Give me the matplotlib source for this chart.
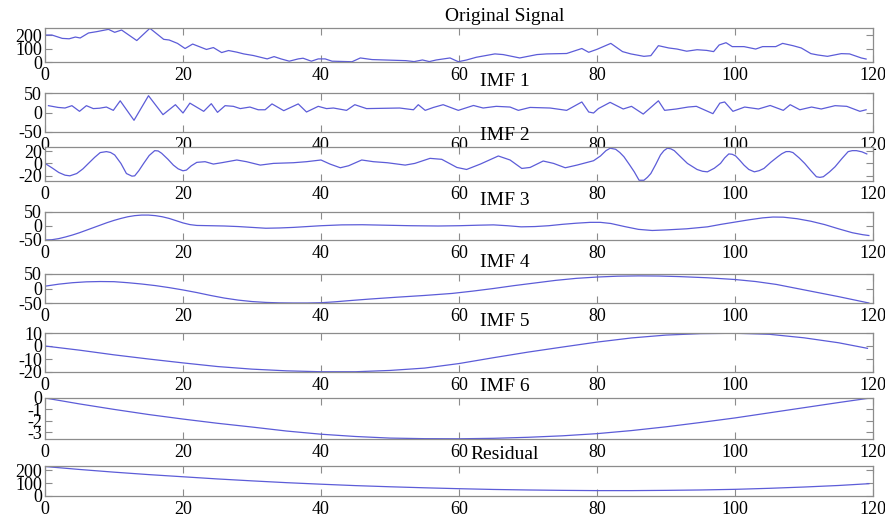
import matplotlib
matplotlib.use("Agg")
import matplotlib.pyplot as plt

plt.rcParams["font.family"] = ["Liberation Serif", "DejaVu Serif"]
plt.rcParams["axes.unicode_minus"] = False

# ---- data -------------------------------------------------------------
orig_t = [0, 1, 2.5, 3.5, 4.4, 5.1, 6.3, 7.5, 9.2, 10.1, 11.1, 13.3, 15.2, 17.2, 18,
          19.2, 20.3, 21.4, 23.4, 24.4, 25.6, 26.6, 27.8, 28.8, 30.2, 32.2, 33.2, 34.2,
          35.4, 36.7, 37.4, 38.6, 39.6, 40.6, 41.6, 44.5, 45.7, 47.4, 52.3, 53.5, 54.7,
          55.7, 56.7, 58.7, 59.9, 61.1, 62.5, 65.2, 66.4, 68.8, 71.3, 72.7, 75.6, 77.8,
          78.8, 80, 82, 83.7, 84.9, 86.8, 87.8, 88.9, 90.4, 91.6, 93, 94.5, 95.9, 96.9,
          97.7, 98.7, 99.6, 101.3, 103, 104, 105.9, 106.9, 108.4, 109.6, 111, 112,
          113.4, 115.4, 116.6, 118.3, 119]
orig_v = [200, 200, 175, 172, 185, 178, 215, 225, 242, 220, 237, 159, 250, 168, 163,
          138, 100, 133, 93, 107, 70, 85, 73, 60, 48, 23, 40, 23, 6, 23, 28, 6, 23, 23,
          6, 2, 30, 18, 10, 3, 15, 3, 15, 30, 2, 15, 35, 60, 55, 30, 55, 60, 63, 100,
          72, 94, 138, 77, 60, 42, 47, 121, 104, 96, 80, 91, 86, 77, 126, 143, 114, 114,
          96, 114, 114, 138, 121, 104, 62, 52, 42, 62, 60, 30, 22]

imf1_t = [0.5, 1.9, 2.9, 3.9, 5.0, 6.0, 7.0, 7.9, 8.9, 9.9, 10.9, 12.9, 15.0, 17.1, 18.9,
          20.0, 21.0, 23.0, 24.1, 25.0, 26.1, 27.3, 28.3, 29.7, 30.9, 31.9, 32.9, 34.6,
          36.7, 37.9, 39.6, 40.8, 41.8, 43.7, 44.9, 46.6, 51.4, 53.4, 54.1, 55.1, 56.3,
          57.7, 59.9, 62.1, 63.5, 65.4, 67.4, 68.6, 70.3, 73.2, 75.6, 77.8, 78.8, 79.5,
          80.2, 81.9, 83.8, 85.0, 86.7, 88.9, 89.8, 91.5, 93.2, 94.4, 96.8, 97.8, 98.5,
          99.7, 101.4, 103.4, 105.1, 107.0, 108.0, 109.4, 111.1, 112.5, 114.5, 116.2,
          118.1, 119.0]
imf1_v = [17.5, 13, 11.5, 17.5, 3, 17.5, 10, 11, 14, 5.5, 30, -20, 43, -5.5, 20, -1.3,
          24, 3, 22.6, 0.4, 17.5, 15.8, 10, 14, 7, 7, 22, 4.7, 22, 1.3, 15.8, 10, 11.5,
          5.5, 20, 10, 11.5, 7, 20, 5.5, 13, 20, 5.5, 18, 11.5, 15.8, 14, 5.5, 13, 11.5,
          5.5, 27, 1.3, -1.3, 10, 26, 9, 15.8, -4, 30, 5.5, 9, 14, 15.8, -3, 24, 27, 3,
          14, 9, 18, 5.5, 20, 7, 14, 9, 17.5, 15.8, 3, 7]

imf2_t = [0, 1.1, 2.0, 2.9, 3.6, 4.6, 5.5, 6.3, 7.2, 8.0, 8.9, 9.5, 10.1, 11.0, 11.8,
          12.6, 13.0, 13.6, 14.3, 15.1, 15.9, 16.4, 16.9, 17.8, 18.6, 19.3, 20.0, 20.5,
          21.2, 22.0, 23.2, 24.4, 25.6, 27.8, 29.2, 31.2, 33.1, 36.0, 37.9, 40.0, 41.3,
          42.8, 44.0, 45.9, 47.6, 49.6, 52.2, 53.6, 55.8, 57.5, 59.7, 61.1, 63.1, 65.7,
          67.4, 69.1, 70.3, 72.2, 73.7, 75.4, 77.1, 79.5, 80.5, 81.3, 81.9, 82.7, 83.3,
          83.9, 84.7, 85.4, 86.1, 86.8, 87.3, 87.8, 88.5, 89.2, 89.7, 90.2, 90.7, 91.2,
          92.1, 93.1, 94.5, 95.3, 96.0, 97.0, 97.9, 98.5, 99.1, 99.6, 100.1, 100.7,
          101.3, 102.0, 102.8, 103.5, 104.2, 105.2, 106.2, 106.8, 107.4, 107.9, 108.4,
          109.3, 110.1, 111.0, 111.8, 112.3, 112.8, 113.7, 114.5, 115.5, 116.4, 117.0,
          117.6, 118.4, 119.1]
imf2_v = [0, -8, -15, -19.4, -20.5, -16.7, -9, 0, 10, 17.8, 19.4, 18, 13.9, 0, -16.7,
          -21, -20.5, -12, 0, 13, 21, 20.5, 16.7, 7, -2.8, -9, -12.2, -11, -4, 1.7, 2.8,
          -1.1, 1.1, 5.6, 2.8, -2.8, 0, 1.1, 2.8, 5.6, -1.1, -7.2, -3.9, 5.6, 2.8, 1.1,
          -2.8, 0, 8.3, 6.7, -6.7, -10, -1.1, 12.2, 5.6, -8.3, -6.7, 3.9, 0, -7.2, -2.8,
          4.4, 12.2, 21, 25, 23.3, 18, 11, -2, -13.9, -27.8, -27.8, -23, -16.7, -2, 13.9,
          21, 25, 24, 21, 11, 0, -10, -13, -13.9, -8, 0, 9, 15.6, 15, 12.2, 5, -2.8, -10,
          -13.9, -12, -8.3, 2, 11, 16, 19.4, 19.5, 17.8, 9, 0, -12, -22, -23, -22, -14,
          -5.6, 8, 19.4, 21, 21, 19, 15.6]

imf3_t = [0, 1, 2, 3, 4, 5, 6, 7, 8, 9, 10, 11, 12, 13, 14, 15, 16, 17, 18, 19, 20, 21,
          22, 24, 26, 28, 30, 32, 34, 36, 38, 40, 43, 46, 49, 53, 57, 60, 63, 65, 67, 69,
          71, 73, 75, 77, 79, 80.5, 82, 84, 86, 88, 90, 93, 96, 98, 100, 102, 104, 105.5,
          107, 109, 111, 113, 115, 117, 118.5, 119.4]
imf3_v = [-50, -49, -45, -39, -32, -24, -15, -6, 3, 12, 20, 27, 33, 37, 39, 39, 37, 33,
          27, 19, 11, 5, 2, 1, 0, -2, -5, -8, -7, -5, -2, 1, 4, 4.5, 3, 1, 0, 1, 3, 4, 1,
          -3, -2, 1, 6, 10, 13, 13, 9, -2, -12, -16, -14, -10, -3, 6, 14, 22, 29, 32,
          31.5, 26, 17, 5, -10, -24, -31, -34]

imf4_t = [0, 2, 4, 6, 8, 10, 12, 14, 16, 18, 20, 22, 24, 26, 28, 30, 32, 34, 36, 38, 40,
          42, 44, 47, 51, 55, 59, 62, 65, 68, 71, 74, 77, 80, 83, 86, 89, 92, 96, 100,
          103, 106, 109, 112, 115, 118, 119.4]
imf4_v = [8, 15, 20, 23, 24, 23.5, 20, 15.5, 10, 3, -5, -14, -24, -33, -40, -45, -48,
          -49.5, -50, -50, -49, -46, -42, -36.5, -30, -24, -17, -9, 0, 10, 19, 28, 35,
          39.5, 42.5, 43.5, 43, 41, 37, 31, 24, 14, 0, -14, -28, -43, -50]

imf5_t = [0, 5, 10, 15, 20, 25, 30, 35, 40, 45, 50, 55, 60, 65, 70, 75, 80, 85, 90, 95,
          100, 105, 110, 115, 119.2]
imf5_v = [0, -3.2, -6.8, -10, -13, -15.8, -17.8, -19.1, -19.8, -19.8, -18.8, -17, -13.5,
          -9, -4.7, -0.8, 3, 6.2, 8.4, 9.5, 9.8, 9, 6.3, 2.5, -1.8]

imf6_t = [0, 5, 10, 15, 20, 25, 30, 35, 40, 45, 50, 55, 60, 65, 70, 75, 80, 85, 90, 95,
          100, 105, 110, 115, 119.4]
imf6_v = [0, -0.52, -1.0, -1.45, -1.85, -2.22, -2.55, -2.9, -3.18, -3.38, -3.52, -3.57,
          -3.58, -3.54, -3.45, -3.32, -3.13, -2.86, -2.53, -2.15, -1.75, -1.3, -0.85,
          -0.4, -0.02]

res_t = [0, 5, 10, 15, 20, 25, 30, 35, 40, 45, 50, 55, 60, 65, 70, 75, 80, 85, 90, 95,
         100, 105, 110, 115, 119.4]
res_v = [230, 207, 186, 167, 150, 133, 118, 104, 92, 81, 72, 64, 57, 51, 47, 44, 42, 42,
         44, 47, 52, 60, 70, 82, 96]

titles = ["Original Signal", "IMF 1", "IMF 2", "IMF 3", "IMF 4", "IMF 5", "IMF 6", "Residual"]
series = [(orig_t, orig_v), (imf1_t, imf1_v), (imf2_t, imf2_v), (imf3_t, imf3_v),
          (imf4_t, imf4_v), (imf5_t, imf5_v), (imf6_t, imf6_v), (res_t, res_v)]
ylims = [(0, 252), (-50, 50), (-29, 27), (-50, 50), (-50, 50), (-20, 10), (-3.6, 0), (0, 234)]
yticks = [[0, 100, 200], [-50, 0, 50], [-20, 0, 20], [-50, 0, 50], [-50, 0, 50],
          [-20, -10, 0, 10], [-3, -2, -1, 0], [0, 100, 200]]
xticks = [0, 20, 40, 60, 80, 100, 120]

# ---- layout (pixel rows of each panel) --------------------------------
W, H = 885, 523
rows = [(28, 62), (93, 132), (147, 181), (212, 240), (274, 303), (333, 372),
        (398, 439), (466, 496)]
left, right = 45, 873

fig = plt.figure(figsize=(W / 100, H / 100), dpi=100)
line_color = "#5c5cd8"
frame_color = "#8c8c8c"

for (top, bot), title, (t, v), yl, yt in zip(rows, titles, series, ylims, yticks):
    ax = fig.add_axes([left / W, 1 - bot / H, (right - left) / W, (bot - top) / H])
    ax.plot(t, v, color=line_color, lw=0.9)
    ax.set_xlim(0, 120)
    ax.set_ylim(*yl)
    ax.set_xticks(xticks)
    ax.set_yticks(yt)
    ax.set_yticklabels([f"{y:g}" for y in yt])
    ax.tick_params(direction="in", top=True, right=True, length=5, width=0.8,
                   color=frame_color, labelsize=13, labelcolor="black")
    ax.tick_params(axis="x", pad=3.5)
    ax.tick_params(axis="y", pad=2)
    for s in ax.spines.values():
        s.set_color(frame_color)
        s.set_linewidth(0.9)
    fig.text(505 / W, 1 - (top - 7) / H, title, ha="center", va="baseline",
             fontsize=14)

fig.savefig("out.png", dpi=100, facecolor="white")
